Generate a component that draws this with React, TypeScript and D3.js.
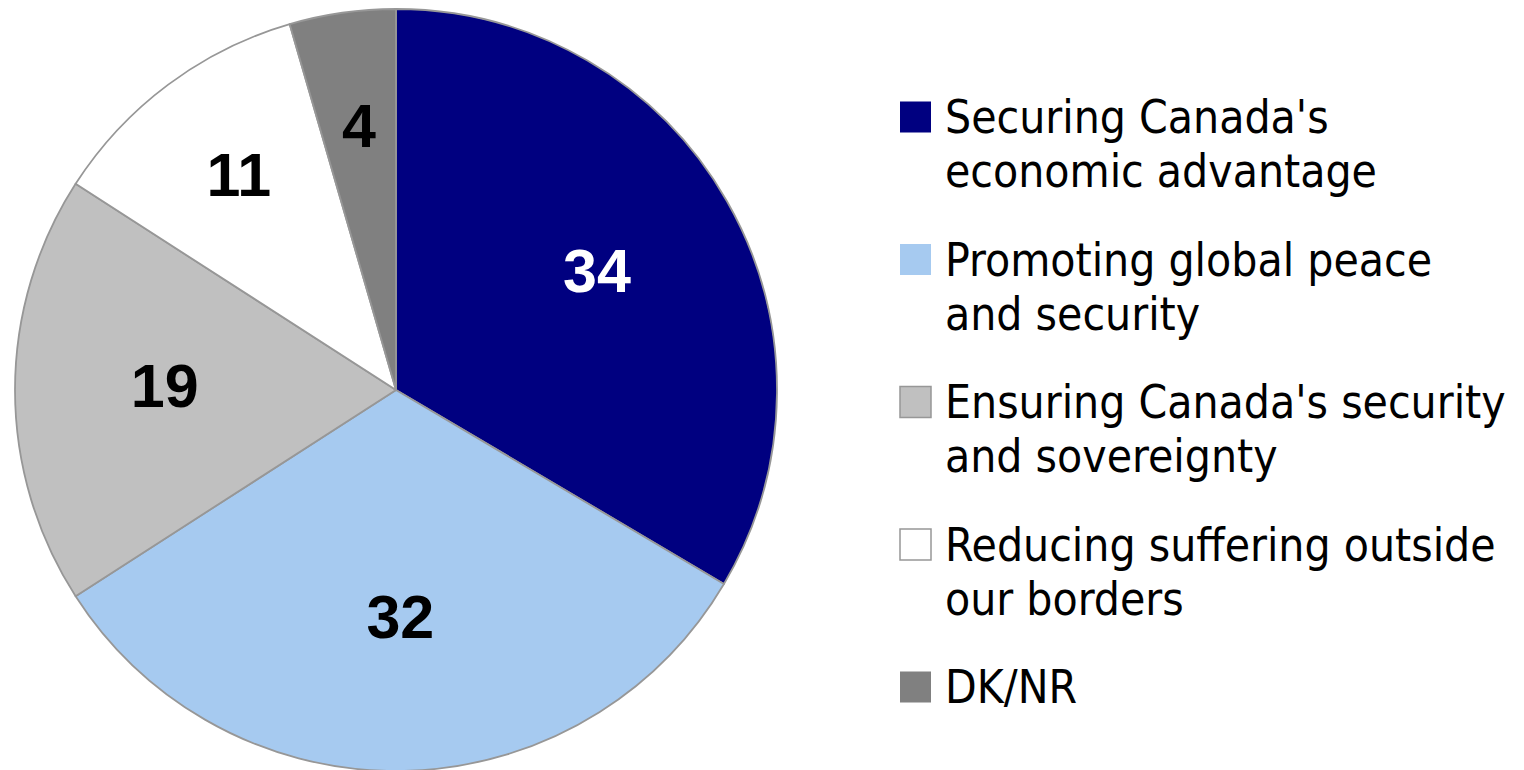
import React from "react";
import * as d3 from "d3";

const categories = [
  ["Securing Canada's", "economic advantage"],
  ["Promoting global peace", "and security"],
  ["Ensuring Canada's security", "and sovereignty"],
  ["Reducing suffering outside", "our borders"],
  ["DK/NR"],
];
const shares = [33.5, 32.4, 18.2, 11.4, 4.5];
const valueLabels = ["34", "32", "19", "11", "4"];
const colors = ["#000080", "#A6CAF0", "#C0C0C0", "#FFFFFF", "#808080"];
const labelColors = ["#FFFFFF", "#000000", "#000000", "#000000", "#000000"];

export default function App() {
  const W = 1524, H = 770;
  const cx = 396, cy = 390, r = 381;
  const pie = d3.pie<number>().sort(null).value((d) => d);
  const arcs = pie(shares);
  const arc = d3.arc<d3.PieArcDatum<number>>().innerRadius(0).outerRadius(r);
  const labelPos = (a: d3.PieArcDatum<number>) => {
    const frac = (a.endAngle - a.startAngle) / (2 * Math.PI);
    const lr = frac < 0.15 ? r * 0.69 : r * 0.607;
    const m = (a.startAngle + a.endAngle) / 2;
    return [Math.sin(m) * lr, -Math.cos(m) * lr];
  };
  const legendX = 900, legendY0 = 117, legendStep = 142.5, sq = 31, lineH = 54;
  return (
    <svg width={W} height={H} style={{ position: "absolute", left: 0, top: 0 }}>
      <rect width={W} height={H} fill="#fff" />
      <g transform={`translate(${cx},${cy})`}>
        {arcs.map((a, i) => (
          <path key={i} d={arc(a) || ""} fill={colors[i]} stroke="#979797" strokeWidth={1.8} strokeLinejoin="round" />
        ))}
        {arcs.map((a, i) => {
          const [x, y] = labelPos(a);
          return (
            <text key={i} x={x} y={y - 4} fill={labelColors[i]} fontFamily="'Liberation Sans', Arial, sans-serif"
              fontWeight="bold" fontSize={61} textAnchor="middle" dominantBaseline="central">
              {valueLabels[i]}
            </text>
          );
        })}
      </g>
      <g>
        {categories.map((lines, i) => {
          const yc = legendY0 + i * legendStep;
          return (
            <g key={i}>
              <rect x={legendX} y={yc - sq / 2} width={sq} height={sq} fill={colors[i]}
                stroke={i === 3 || i === 2 ? "#979797" : "none"} strokeWidth={i === 3 || i === 2 ? 1.5 : 0} />
              {lines.map((t, j) => (
                <text key={j} x={legendX + 45} y={yc + 16 + j * lineH} fontFamily="'DejaVu Sans Condensed', 'DejaVu Sans', sans-serif"
                  style={{ fontStretch: "condensed" }} fontSize={45.8} fill="#000">
                  {t}
                </text>
              ))}
            </g>
          );
        })}
      </g>
    </svg>
  );
}
